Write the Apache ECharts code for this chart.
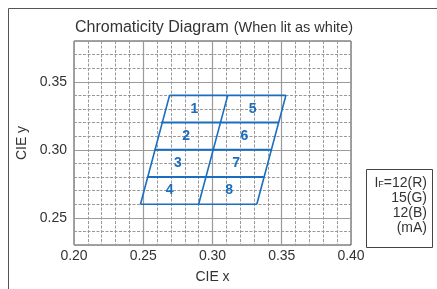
<!DOCTYPE html>
<html>
<head>
<meta charset="utf-8">
<script src="https://cdn.jsdelivr.net/npm/echarts@6/dist/echarts.min.js"></script>
<style>
  html, body { margin: 0; padding: 0; background: #fff; }
  #main { width: 437px; height: 289px; }
</style>
</head>
<body>
<div id="main"></div>
<script>
// rows of the bin grid (CIE y) and the left / right ends of each row line (CIE x)
var rowY = [0.26, 0.28, 0.30, 0.32, 0.34];
var rowLeftX = [0.248, 0.253, 0.258, 0.263, 0.269];
var rowRightX = [0.332, 0.337, 0.343, 0.348, 0.353];
// middle divider, bottom -> top
var midX = [0.290, 0.311];

// bin numbers
var binNames = ['1', '2', '3', '4', '5', '6', '7', '8'];
var binX = [0.287, 0.281, 0.275, 0.269, 0.329, 0.323, 0.317, 0.312];
var binY = [0.330, 0.310, 0.290, 0.270, 0.330, 0.310, 0.290, 0.270];

var majorTicks = [0.25, 0.30, 0.35];
var legendLines = ['=12(R)', '15(G)', '12(B)', '(mA)'];

var blue = '#1a6dbf';
var font = 'Liberation Sans, Arial, sans-serif';

function isMajor(v) {
    return Math.abs(v * 20 - Math.round(v * 20)) < 1e-6;
}

// bin outline segments, built from the arrays above
var segs = [];
for (var i = 0; i < rowY.length; i++) {
    segs.push([[rowLeftX[i], rowY[i]], [rowRightX[i], rowY[i]], i > 0 && i < rowY.length - 1 ? 2 : 1.6]);
}
var last = rowY.length - 1;
segs.push([[rowLeftX[0], rowY[0]], [rowLeftX[last], rowY[last]], 1.6]);
segs.push([[midX[0], rowY[0]], [midX[1], rowY[last]], 1.6]);
segs.push([[rowRightX[0], rowY[0]], [rowRightX[last], rowY[last]], 1.6]);

var series = segs.map(function (s) {
    return {
        type: 'line',
        data: [s[0], s[1]],
        symbol: 'none',
        silent: true,
        z: 5,
        lineStyle: { color: blue, width: s[2] }
    };
});

// solid major grid lines
series.push({
    type: 'line',
    data: [],
    silent: true,
    z: 1,
    markLine: {
        symbol: 'none',
        silent: true,
        label: { show: false },
        lineStyle: { color: '#9a9a9a', type: 'solid', width: 1.2 },
        data: majorTicks.map(function (v) { return { xAxis: v }; })
            .concat(majorTicks.map(function (v) { return { yAxis: v }; }))
    }
});

series.push({
    type: 'scatter',
    symbolSize: 1,
    itemStyle: { color: 'rgba(0,0,0,0)', opacity: 1 },
    silent: true,
    z: 6,
    data: binNames.map(function (n, i) { return [binX[i], binY[i], n]; }),
    label: {
        show: true,
        position: 'inside',
        formatter: function (p) { return p.value[2]; },
        color: blue,
        opacity: 1,
        textBorderWidth: 0,
        fontWeight: 'bold',
        fontSize: 14,
        fontFamily: font
    }
});

var option = {
    backgroundColor: '#fff',
    animation: false,
    title: {
        text: '{a|Chromaticity Diagram} {b|(When lit as white)}',
        left: 209,
        textAlign: 'center',
        top: 14,
        textStyle: {
            fontWeight: 'normal',
            rich: {
                a: { fontSize: 16, color: '#333', fontFamily: font, fontWeight: 'normal' },
                b: { fontSize: 14.5, color: '#333', fontFamily: font, fontWeight: 'normal' }
            }
        }
    },
    grid: {
        left: 74,
        right: 86,
        top: 41,
        bottom: 41,
        show: true,
        borderColor: '#444',
        borderWidth: 1
    },
    xAxis: {
        type: 'value',
        min: 0.20,
        max: 0.40,
        interval: 0.01,
        name: 'CIE x',
        nameLocation: 'middle',
        nameGap: 25,
        nameTextStyle: { fontSize: 14, color: '#333', fontFamily: font },
        axisLine: { show: false },
        axisTick: { show: false },
        axisLabel: {
            margin: 4,
            fontSize: 14,
            color: '#333',
            fontFamily: font,
            formatter: function (v) { return isMajor(v) ? v.toFixed(2) : ''; }
        },
        splitLine: { show: true, lineStyle: { color: '#999', type: [3, 1.5], width: 1 } }
    },
    yAxis: {
        type: 'value',
        min: 0.23,
        max: 0.38,
        interval: 0.01,
        name: 'CIE y',
        nameLocation: 'middle',
        nameGap: 44,
        nameTextStyle: { fontSize: 14, color: '#333', fontFamily: font },
        axisLine: { show: false },
        axisTick: { show: false },
        axisLabel: {
            margin: 7,
            fontSize: 14,
            color: '#333',
            fontFamily: font,
            formatter: function (v) { return isMajor(v) ? v.toFixed(2) : ''; }
        },
        splitLine: { show: true, lineStyle: { color: '#999', type: [3, 1.5], width: 1 } }
    },
    graphic: [
        {
            type: 'rect',
            shape: { x: 8.5, y: 8.5, width: 440, height: 300 },
            style: { fill: 'none', stroke: '#555', lineWidth: 1 },
            silent: true
        },
        {
            type: 'rect',
            shape: { x: 366.5, y: 169.5, width: 66, height: 78 },
            style: { fill: '#fff', stroke: '#444', lineWidth: 1 },
            silent: true
        },
        {
            type: 'text',
            x: 427,
            y: 176,
            style: {
                text: '{i|I}{f|F}{t|' + legendLines[0] + '}\n{t|' + legendLines.slice(1).join('}\n{t|') + '}',
                align: 'right',
                fill: '#333',
                rich: {
                    i: { fontSize: 14, fontFamily: font, fill: '#333', lineHeight: 14.8 },
                    f: { fontSize: 9, fontFamily: font, fill: '#333', lineHeight: 14.8, verticalAlign: 'bottom', padding: [0, 0, 2, 0] },
                    t: { fontSize: 14, fontFamily: font, fill: '#333', lineHeight: 14.8 }
                }
            },
            silent: true
        }
    ],
    series: series
};

var myChart = echarts.init(document.getElementById('main'));
myChart.setOption(option);
</script>
</body>
</html>
